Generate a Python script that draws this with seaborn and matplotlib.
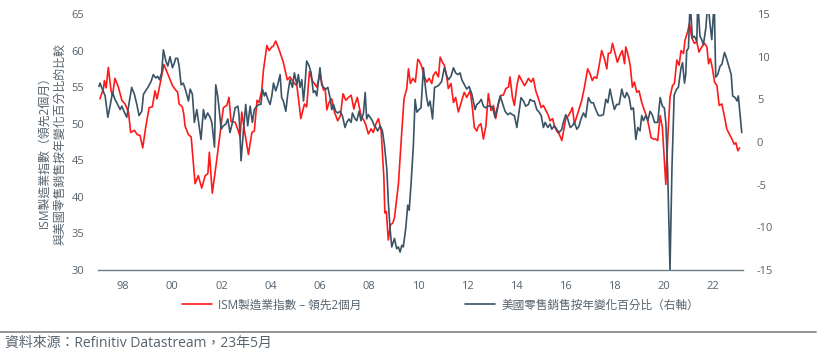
import matplotlib
matplotlib.use("Agg")
import matplotlib.pyplot as plt
import seaborn as sns
import numpy as np
import pandas as pd
from matplotlib.lines import Line2D

# ---------------- data ----------------
ism_x = [1997.06, 1997.20, 1997.24, 1997.31, 1997.40, 1997.51, 1997.57, 1997.67, 1997.81, 1997.95,
         1998.08, 1998.22, 1998.31, 1998.46, 1998.58, 1998.69, 1998.80, 1998.92, 1999.06, 1999.19,
         1999.30, 1999.38, 1999.51, 1999.66, 1999.82, 2000.01, 2000.14, 2000.22, 2000.28, 2000.41,
         2000.47, 2000.52, 2000.66, 2000.77, 2000.93, 2001.06, 2001.20, 2001.34, 2001.45, 2001.51,
         2001.63, 2001.77, 2001.91, 2002.08, 2002.22, 2002.31, 2002.39, 2002.56, 2002.69, 2002.76,
         2002.83, 2002.94, 2003.10, 2003.24, 2003.34, 2003.45, 2003.53, 2003.64, 2003.71, 2003.85,
         2003.94, 2004.05, 2004.11, 2004.21, 2004.35, 2004.52, 2004.68, 2004.79, 2004.97, 2005.07,
         2005.13, 2005.23, 2005.38, 2005.47, 2005.58, 2005.70, 2005.88, 2006.01, 2006.15, 2006.22,
         2006.29, 2006.38, 2006.49, 2006.60, 2006.73, 2006.84, 2006.95, 2007.06, 2007.17, 2007.28,
         2007.39, 2007.44, 2007.53, 2007.68, 2007.79, 2007.87, 2007.98, 2008.09, 2008.18, 2008.29,
         2008.39, 2008.50, 2008.61, 2008.65, 2008.71, 2008.79, 2008.88, 2008.97, 2009.04, 2009.20,
         2009.34, 2009.43, 2009.54, 2009.61, 2009.69, 2009.79, 2009.89, 2009.99, 2010.05, 2010.15,
         2010.26, 2010.36, 2010.45, 2010.56, 2010.62, 2010.72, 2010.83, 2010.90, 2010.99, 2011.07,
         2011.17, 2011.23, 2011.34, 2011.44, 2011.53, 2011.64, 2011.78, 2011.88, 2011.98, 2012.12,
         2012.21, 2012.29, 2012.39, 2012.46, 2012.56, 2012.66, 2012.76, 2012.86, 2012.97, 2013.07,
         2013.16, 2013.27, 2013.38, 2013.47, 2013.57, 2013.68, 2013.74, 2013.84, 2013.92, 2014.02,
         2014.11, 2014.22, 2014.33, 2014.42, 2014.49, 2014.60, 2014.69, 2014.79, 2014.90, 2015.01,
         2015.10, 2015.20, 2015.28, 2015.37, 2015.47, 2015.55, 2015.64, 2015.74, 2015.85, 2015.92,
         2016.01, 2016.12, 2016.23, 2016.28, 2016.36, 2016.45, 2016.55, 2016.66, 2016.77, 2016.90,
         2017.00, 2017.09, 2017.17, 2017.27, 2017.37, 2017.47, 2017.58, 2017.68, 2017.74, 2017.84,
         2017.91, 2018.02, 2018.11, 2018.22, 2018.31, 2018.40, 2018.45, 2018.53, 2018.63, 2018.72,
         2018.80, 2018.90, 2018.99, 2019.10, 2019.21, 2019.31, 2019.40, 2019.48, 2019.57, 2019.67,
         2019.75, 2019.85, 2019.94, 2020.02, 2020.08, 2020.16, 2020.25, 2020.35, 2020.43, 2020.53,
         2020.62, 2020.70, 2020.80, 2020.86, 2020.97, 2021.04, 2021.14, 2021.24, 2021.34, 2021.43,
         2021.54, 2021.65, 2021.75, 2021.82, 2021.89, 2021.98, 2022.06, 2022.16, 2022.25, 2022.36,
         2022.47, 2022.56, 2022.66, 2022.77, 2022.86, 2022.93, 2023.01, 2023.08]
ism_y = [53.4, 54.8, 55.9, 54.9, 57.7, 54.5, 53.9, 56.2, 55.0, 53.2,
         52.7, 51.6, 48.8, 49.1, 48.5, 48.4, 46.7, 49.5, 52.2, 52.3,
         54.5, 53.4, 55.5, 58.1, 56.8, 55.2, 54.6, 54.3, 52.7, 52.3,
         51.3, 49.7, 48.5, 48.2, 41.8, 42.9, 41.2, 42.9, 43.2, 46.1,
         40.5, 44.0, 47.7, 52.2, 52.5, 53.6, 50.3, 50.2, 49.0, 48.2,
         51.6, 49.0, 45.8, 48.8, 49.0, 53.2, 52.9, 54.5, 57.3, 60.7,
         60.0, 60.5, 60.6, 61.3, 60.1, 58.4, 56.0, 56.4, 55.5, 55.2,
         53.6, 50.7, 52.7, 52.3, 57.1, 55.9, 55.0, 56.8, 54.6, 54.8,
         51.9, 52.9, 53.4, 51.6, 50.4, 51.1, 54.1, 53.2, 53.6, 53.9,
         52.0, 52.7, 53.6, 51.1, 50.5, 49.9, 48.6, 49.3, 48.8, 50.0,
         50.7, 49.0, 42.6, 37.8, 38.0, 34.1, 36.2, 36.4, 37.1, 41.7,
         49.0, 53.4, 54.8, 57.5, 55.5, 56.2, 55.7, 58.8, 58.6, 57.8,
         56.4, 55.7, 56.2, 55.5, 56.6, 57.1, 56.4, 59.1, 58.4, 58.0,
         56.4, 54.8, 55.5, 52.9, 53.6, 51.6, 53.2, 54.3, 53.6, 54.5,
         52.2, 49.5, 49.0, 49.7, 50.0, 47.9, 49.7, 54.1, 51.8, 52.5,
         50.7, 52.7, 53.9, 53.9, 54.8, 55.0, 56.4, 53.6, 52.5, 55.2,
         56.6, 55.9, 55.2, 55.7, 56.2, 55.7, 56.2, 54.5, 53.4, 52.2,
         52.5, 51.8, 51.3, 50.4, 50.7, 49.7, 49.0, 48.6, 47.7, 49.0,
         50.7, 51.1, 51.8, 52.2, 50.0, 50.9, 52.0, 53.2, 55.0, 57.5,
         56.8, 55.9, 56.4, 56.2, 58.0, 60.0, 58.9, 57.5, 59.6, 59.7,
         61.0, 59.6, 58.4, 59.4, 60.0, 58.2, 60.5, 59.6, 58.0, 55.0,
         55.7, 54.3, 54.5, 52.9, 51.8, 50.9, 49.5, 48.1, 47.9, 47.9,
         47.7, 51.1, 49.5, 44.9, 41.7, 48.1, 53.6, 55.2, 55.5, 58.7,
         58.0, 60.0, 59.6, 61.4, 62.6, 63.7, 61.7, 61.0, 61.2, 59.8,
         60.5, 61.0, 60.5, 58.2, 58.9, 57.5, 55.7, 55.2, 52.5, 52.7,
         50.9, 49.3, 48.6, 47.9, 47.2, 47.4, 46.3, 46.7]

retail_x = [1997.02, 1997.06, 1997.16, 1997.27, 1997.38, 1997.47, 1997.57, 1997.67, 1997.78, 1997.88,
            1997.95, 1998.05, 1998.15, 1998.35, 1998.46, 1998.56, 1998.65, 1998.76, 1998.83, 1998.92,
            1999.03, 1999.14, 1999.23, 1999.33, 1999.41, 1999.48, 1999.57, 1999.64, 1999.74, 1999.82,
            1999.91, 2000.01, 2000.09, 2000.14, 2000.22, 2000.28, 2000.36, 2000.45, 2000.55, 2000.66,
            2000.73, 2000.82, 2000.90, 2001.00, 2001.09, 2001.17, 2001.27, 2001.34, 2001.44, 2001.54,
            2001.61, 2001.72, 2001.77, 2001.85, 2001.91, 2001.99, 2002.08, 2002.18, 2002.26, 2002.35,
            2002.45, 2002.56, 2002.67, 2002.72, 2002.80, 2002.90, 2002.99, 2003.07, 2003.17, 2003.26,
            2003.34, 2003.44, 2003.53, 2003.61, 2003.67, 2003.75, 2003.80, 2003.89, 2003.98, 2004.05,
            2004.12, 2004.21, 2004.29, 2004.39, 2004.45, 2004.52, 2004.62, 2004.70, 2004.79, 2004.89,
            2004.97, 2005.07, 2005.13, 2005.20, 2005.27, 2005.34, 2005.40, 2005.47, 2005.57, 2005.65,
            2005.74, 2005.81, 2005.88, 2006.01, 2006.08, 2006.15, 2006.25, 2006.33, 2006.42, 2006.49,
            2006.56, 2006.65, 2006.73, 2006.83, 2006.92, 2007.03, 2007.10, 2007.19, 2007.28, 2007.33,
            2007.44, 2007.51, 2007.60, 2007.68, 2007.78, 2007.85, 2007.91, 2007.98, 2008.05, 2008.14,
            2008.22, 2008.28, 2008.36, 2008.46, 2008.55, 2008.63, 2008.73, 2008.79, 2008.86, 2008.93,
            2009.04, 2009.13, 2009.20, 2009.27, 2009.34, 2009.40, 2009.50, 2009.58, 2009.64, 2009.72,
            2009.81, 2009.88, 2009.95, 2010.04, 2010.12, 2010.22, 2010.29, 2010.35, 2010.42, 2010.49,
            2010.59, 2010.67, 2010.76, 2010.86, 2010.96, 2011.07, 2011.17, 2011.24, 2011.34, 2011.44,
            2011.53, 2011.62, 2011.71, 2011.78, 2011.89, 2011.98, 2012.08, 2012.19, 2012.25, 2012.32,
            2012.39, 2012.48, 2012.57, 2012.66, 2012.75, 2012.84, 2012.93, 2013.03, 2013.13, 2013.24,
            2013.34, 2013.43, 2013.54, 2013.65, 2013.75, 2013.84, 2013.92, 2014.02, 2014.11, 2014.19,
            2014.29, 2014.38, 2014.49, 2014.56, 2014.65, 2014.73, 2014.83, 2014.90, 2015.01, 2015.10,
            2015.17, 2015.28, 2015.37, 2015.44, 2015.55, 2015.64, 2015.74, 2015.85, 2015.91, 2016.01,
            2016.09, 2016.19, 2016.28, 2016.36, 2016.46, 2016.54, 2016.63, 2016.73, 2016.82, 2016.93,
            2017.04, 2017.13, 2017.23, 2017.34, 2017.45, 2017.54, 2017.64, 2017.72, 2017.81, 2017.91,
            2017.99, 2018.08, 2018.18, 2018.29, 2018.36, 2018.42, 2018.49, 2018.59, 2018.67, 2018.76,
            2018.86, 2018.94, 2019.03, 2019.10, 2019.17, 2019.26, 2019.35, 2019.44, 2019.54, 2019.62,
            2019.75, 2019.85, 2019.94, 2020.02, 2020.08, 2020.16, 2020.25, 2020.33, 2020.42, 2020.52,
            2020.59, 2020.70, 2020.76, 2020.84, 2020.89, 2020.93, 2021.00, 2021.07, 2021.16, 2021.24,
            2021.34, 2021.38, 2021.47, 2021.54, 2021.61, 2021.71, 2021.79, 2021.88, 2021.95, 2022.05,
            2022.11, 2022.19, 2022.29, 2022.36, 2022.47, 2022.56, 2022.66, 2022.74, 2022.80, 2022.90,
            2022.98, 2023.03, 2023.17]
retail_y = [6.5, 6.9, 6.2, 5.4, 2.9, 4.2, 5.8, 5.0, 4.4, 3.8,
            4.2, 3.5, 2.9, 6.4, 5.6, 4.4, 3.1, 3.6, 5.6, 6.0,
            6.5, 7.1, 7.9, 7.5, 7.7, 7.3, 8.1, 10.8, 9.5, 8.9,
            10.0, 8.7, 9.3, 9.8, 9.8, 8.9, 6.7, 6.9, 6.0, 4.8,
            6.2, 5.6, 2.3, 3.8, 1.9, 0.3, 3.8, 2.7, 3.4, 2.9,
            2.3, -0.6, 6.7, 5.4, 3.8, 1.5, 1.9, 2.1, 2.7, 1.1,
            2.3, 4.0, 4.2, 3.1, -2.2, 1.5, 4.4, 1.9, 4.2, 2.3,
            3.8, 4.2, 4.4, 4.4, 6.2, 5.4, 5.8, 5.0, 4.4, 5.4,
            6.9, 6.0, 6.7, 7.9, 5.2, 4.8, 3.6, 5.6, 7.3, 6.4,
            8.1, 6.7, 7.9, 6.4, 7.3, 4.8, 6.7, 9.5, 8.9, 8.1,
            5.8, 6.0, 5.4, 8.7, 6.7, 6.4, 6.2, 6.4, 5.2, 3.8,
            4.4, 3.6, 3.4, 3.6, 3.1, 1.7, 2.3, 2.7, 2.3, 3.4,
            2.7, 2.5, 3.6, 2.5, 3.4, 5.8, 2.7, 3.2, 2.9, 2.5,
            1.9, 1.7, 1.3, 1.9, 1.3, -0.3, -3.2, -7.0, -10.1, -12.3,
            -11.3, -12.5, -12.3, -12.9, -12.1, -12.3, -10.1, -7.4, -8.0, -4.7,
            -0.4, 5.0, 3.5, 3.8, 4.0, 8.7, 6.7, 5.2, 4.2, 4.8,
            2.7, 6.4, 6.5, 6.7, 7.1, 8.7, 7.7, 7.3, 7.7, 8.7,
            8.1, 7.9, 8.1, 7.3, 6.7, 6.2, 6.5, 5.6, 4.8, 3.8,
            4.4, 4.6, 5.0, 4.2, 4.0, 4.2, 4.2, 4.1, 2.9, 4.2,
            5.4, 4.6, 3.6, 3.2, 3.4, 3.2, 3.1, 1.7, 3.6, 5.2,
            4.8, 4.2, 4.4, 5.0, 4.8, 4.8, 3.8, 3.6, 3.1, 1.7,
            2.3, 1.7, 2.1, 1.5, 1.9, 1.5, 1.1, 1.5, 2.3, 3.2,
            2.7, 1.7, 1.9, 2.3, 1.5, 1.8, 2.7, 3.4, 2.9, 5.2,
            4.6, 4.6, 3.8, 3.1, 3.1, 3.2, 5.0, 4.6, 6.2, 4.8,
            3.8, 4.4, 4.4, 6.2, 5.4, 5.2, 5.8, 5.2, 3.8, 4.0,
            0.3, 1.7, 1.3, 3.1, 2.5, 3.1, 2.5, 3.6, 3.1, 2.3,
            2.3, 5.2, 4.2, 4.0, 2.3, -3.9, -15.0, -3.0, 5.5, 6.2,
            6.4, 8.7, 9.3, 6.9, 7.9, 10.7, 11.0, 16.5, 12.2, 12.4,
            11.8, 16.5, 12.4, 12.0, 11.4, 13.4, 16.5, 13.8, 12.0, 16.5,
            7.6, 7.9, 8.9, 9.1, 10.5, 9.7, 8.7, 7.9, 5.4, 5.2,
            4.8, 5.4, 1.1]

year_ticks = [1998, 2000, 2002, 2004, 2006, 2008, 2010, 2012, 2014, 2016, 2018, 2020, 2022]
year_labels = ["98", "00", "02", "04", "06", "08", "10", "12", "14", "16", "18", "20", "22"]
left_ticks = [30, 35, 40, 45, 50, 55, 60, 65]
right_ticks = [-15, -10, -5, 0, 5, 10, 15]

ism_label = "ISM製造業指數 – 領先2個月"
retail_label = "美國零售銷售按年變化百分比（右軸）"
ylabel_line1 = "ISM製造業指數（領先2個月）"
ylabel_line2 = "與美國零售銷售按年變化百分比的比較"
source_text = "資料來源：Refinitiv Datastream，23年5月"

# ---------------- style ----------------
sns.set_theme(style="white")
plt.rcParams['font.family'] = ['Open Sans', 'Noto Sans CJK TC', 'DejaVu Sans']
plt.rcParams['axes.unicode_minus'] = False

RED = "#ff1a1a"
NAVY = "#3a5365"
TXT = "#56626c"
AXC = "#6d7d88"

fig = plt.figure(figsize=(8.2, 3.51), dpi=100)
ax = fig.add_axes([98/820, 1-270/351, (743-98)/820, (270-14)/351])
ax2 = ax.twinx()

ism_df = pd.DataFrame({"x": ism_x, "y": ism_y})
ret_df = pd.DataFrame({"x": retail_x, "y": retail_y})

sns.lineplot(data=ism_df, x="x", y="y", ax=ax, color=RED, linewidth=1.2,
             sort=False, estimator=None, legend=False)
sns.lineplot(data=ret_df, x="x", y="y", ax=ax2, color=NAVY, linewidth=1.2,
             sort=False, estimator=None, legend=False)

ax.set_xlim(1996.98, 2023.22)
ax.set_ylim(30, 65)
ax2.set_ylim(-15, 15)
ax.set_xticks(year_ticks)
ax.set_xticklabels(year_labels)
ax.set_yticks(left_ticks)
ax2.set_yticks(right_ticks)
ax2.set_yticklabels([str(t) for t in right_ticks])
ax.set_xlabel("")
ax.set_ylabel("")
ax2.set_ylabel("")

for a in (ax, ax2):
    for s in ("top", "left", "right", "bottom"):
        a.spines[s].set_visible(False)
ax.spines["bottom"].set_visible(True)
ax.spines["bottom"].set_color(AXC)
ax.spines["bottom"].set_linewidth(1.0)

ax.tick_params(axis="x", length=0, pad=8, labelsize=8, labelcolor=TXT)
ax.tick_params(axis="y", length=0, pad=10, labelsize=8, labelcolor=TXT)
ax2.tick_params(axis="y", length=0, pad=10, labelsize=8, labelcolor=TXT)
ax.grid(False)
ax2.grid(False)

fig.text(44/820, 1-149/351, ylabel_line1, rotation=90, ha="center", va="center",
         fontsize=8.6, color=TXT)
fig.text(60/820, 1-144/351, ylabel_line2, rotation=90, ha="center", va="center",
         fontsize=8.6, color=TXT)

h1 = Line2D([], [], color=RED, linewidth=1.2)
h2 = Line2D([], [], color=NAVY, linewidth=1.2)
fig.legend([h1], [ism_label], loc="center left", bbox_to_anchor=(182/820, 1-305/351),
           frameon=False, fontsize=8.4, handlelength=2.6, handletextpad=0.5,
           borderpad=0, borderaxespad=0, labelcolor=TXT)
fig.legend([h2], [retail_label], loc="center left", bbox_to_anchor=(465/820, 1-305/351),
           frameon=False, fontsize=8.4, handlelength=2.6, handletextpad=0.5,
           borderpad=0, borderaxespad=0, labelcolor=TXT)

fig.add_artist(Line2D([0.0, 0.995], [1-331.5/351, 1-331.5/351], transform=fig.transFigure,
                      color="#8c8c8c", linewidth=1.3))
fig.text(5/820, 1-343/351, source_text, ha="left", va="center", fontsize=10, color=TXT)

fig.savefig("out.png", dpi=100, facecolor="white")
